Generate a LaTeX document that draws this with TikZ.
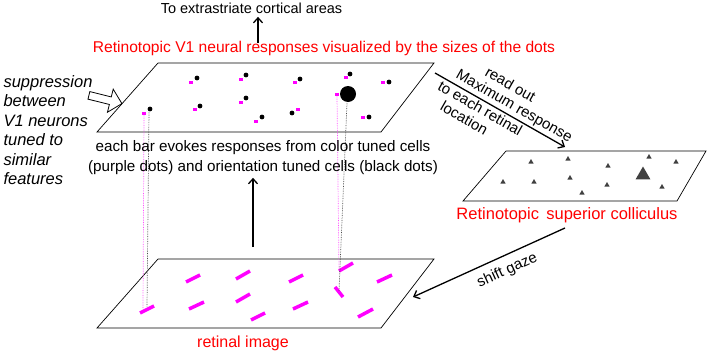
\documentclass[tikz,border=0pt]{standalone}
\usepackage{fontspec}
\setmainfont{Liberation Sans}
\usepackage{xcolor}
\usepackage{tikz}
\usetikzlibrary{shapes.geometric, shapes.arrows, arrows.meta, positioning, calc}
\definecolor{cellmag}{RGB}{255,0,255}
\definecolor{cellred}{RGB}{255,0,0}
\tikzstyle{arrow} = [line width=1.3pt,-{Straight Barb[length=5pt,width=9pt]}]
\tikzstyle{plane} = [draw, line width=0.7pt]
\tikzstyle{bar} = [draw=cellmag, line width=3.5pt]
\tikzstyle{link} = [densely dotted, line width=0.7pt]
\tikzstyle{tri} = [regular polygon, regular polygon sides=3, fill=black!75, inner sep=0pt, minimum size=6pt]

\begin{document}
\begin{tikzpicture}[x=1pt, y=-1pt, every node/.style={font=\fontsize{14.5}{17}\selectfont}, align=center]
\useasboundingbox (0,0) rectangle (708,353);

% Planes
\coordinate (v1bl) at (97,132); \coordinate (v1br) at (381,132);
\coordinate (v1tr) at (434,63); \coordinate (v1tl) at (158,63);
\draw[plane] (v1bl) -- (v1br) -- (v1tr) -- (v1tl) -- cycle;
\draw[plane] (97,328) -- (381,328) -- (434,259) -- (158,259) -- cycle;
\draw[plane] (463,201) -- (677,201) -- (706,151) -- (506,151) -- cycle;

% V1 responses: black = orientation cells, magenta = color cells
\foreach \bx/\by/\mx/\my in {150/109/144/113, 197/78/191/82, 200/106/195/109, 246/75/241/79, 246/98/241/102, 262/117/256/121, 300/79/295/82, 292/113/298/109, 350/74/346/77, 389/82/383/82, 369/117/363/117, 348/94/337/94}
{
  \fill (\bx,\by) circle (2.4pt);
  \fill[cellmag] (\mx,\my) ++(-1.8pt,-1.5pt) rectangle ++(3.6pt,3pt);
}
\fill (348,94) circle (8pt);

% Retinal image bars
\foreach \ax/\ay/\bx/\by in {140/313/154/306, 186/282/200/275, 189/309/204/302, 236/279/250/271, 236/302/250/294, 251/320/265/313, 289/282/303/275, 293/309/308/302, 339/271/353/263, 335/287/343/297, 377/282/392/275, 358/317/373/309}
  \draw[bar] (\ax,\ay) -- (\bx,\by);

% Dotted projections
\draw[link, cellmag!70] (144,115) -- (143,309);
\draw[link, black!70] (149,112) -- (147,307);
\draw[link, cellmag!70] (337,96) -- (339,270);
\draw[link, black!70] (347,103) -- (339,291);

% SC responses
\foreach \tx/\ty in {531/162, 568/159, 608/166, 649/157, 676/162, 503/182, 534/182, 570/178, 607/185, 662/187, 582/193}
  \node[tri] at (\tx,\ty) {};
\node (scmax) [tri, minimum size=17pt] at (643,175) {};

% Labels
\node (extra) at (251.5,8) {To extrastriate cortical areas};
\node (v1title) [cellred, above=4pt of {$(v1tl)!0.5!(v1tr)+(28,0)$}, font=\fontsize{15.6}{18}\selectfont] {Retinotopic V1 neural responses visualized by the sizes of the dots};
\node (desc) [below=4.6pt of {$(263,132)$}, font=\fontsize{15.2}{20}\selectfont] {each bar evokes responses from color tuned cells\\(purple dots) and orientation tuned cells (black dots)};
\coordinate (retbot) at (243,328);
\node (retlabel) [cellred, below=4pt of retbot, font=\fontsize{16}{19}\selectfont] {retinal image};
\coordinate (scbot) at (567,201);
\node (sclabel) [cellred, below=3pt of scbot, font=\fontsize{16.5}{19}\selectfont] {Retinotopic\, superior colliculus};
\node (supp) [anchor=north west, align=left, font=\fontsize{16.5}{19.5}\selectfont\itshape] at (0,72) {suppression\\between\\V1 neurons\\tuned to\\similar\\features};
\node (supparrow) [single arrow, draw, fill=white, line width=0.8pt, rotate=-14, minimum height=34pt, inner sep=3.5pt, single arrow head extend=8pt] at (103.5,99) {};

% Arrows
\coordinate (v1top) at (258,43);
\draw[arrow] (v1top) -- (v1top |- extra.south);
\coordinate (imgtop) at (253,247);
\draw[arrow] (imgtop) -- (imgtop |- desc.south);
\coordinate (readstart) at (435,73);
\coordinate (readend) at (565,147);
\draw[arrow] (readstart) -- node[sloped, pos=0.57, above=0pt, inner sep=2pt, font=\fontsize{15}{16.5}\selectfont] {read out\hspace*{28pt}\\Maximum response}
  node[sloped, pos=0.38, below=0pt, inner sep=2pt, font=\fontsize{15}{16.5}\selectfont] {to each retinal\\location\hspace*{18pt}} (readend);
\coordinate (gazestart) at (565,228);
\coordinate (gazeend) at (413,297);
\draw[arrow] (gazestart) -- node[sloped, pos=0.42, below=4pt, font=\fontsize{15}{18}\selectfont] {shift gaze} (gazeend);
\end{tikzpicture}
\end{document}
